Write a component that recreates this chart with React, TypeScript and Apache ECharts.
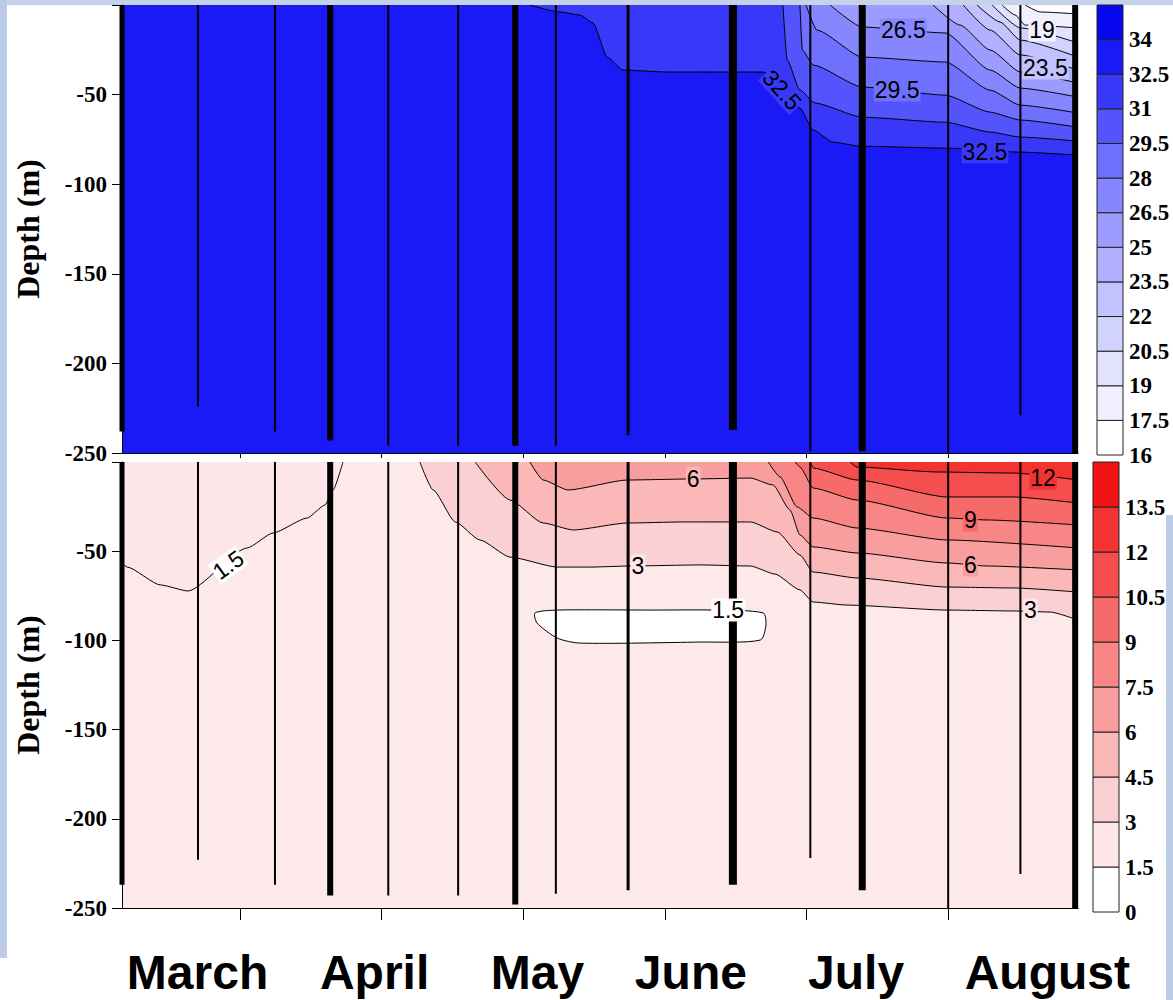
import React, { useEffect, useRef } from 'react';
import * as echarts from 'echarts';

// ---- stations (casts) ----
const stationDays = [0, 16.1, 32.4, 44.1, 56.4, 71.2, 83.3, 91.9, 107.2, 129.4, 145.8, 156.8, 175.0, 190.3, 201.9];
const salinityCastDepths = [-238, -224, -238, -243, -246, -246, -246, -246, -240, -237, -249, -249, -250, -229, -250];
const temperatureCastDepths = [-237, -223, -237, -243, -243, -243, -248, -242, -240, -237, -222, -240, -250, -231, -250];
const castLineWidths = [5, 2, 2, 6, 2, 2, 6, 2, 3, 8, 2, 7, 2, 2, 6];

// ---- x axis ----
const monthNames = ['March', 'April', 'May', 'June', 'July', 'August'];
const monthLabelDays = [16, 53.5, 88, 120.5, 155.5, 196];
const monthTickDays = [25, 55, 85, 115, 145, 175];
const dayMax = 202.5;

// ---- colour scales ----
const salinityBandEdges = [16, 17.5, 19, 20.5, 22, 23.5, 25, 26.5, 28, 29.5, 31, 32.5, 34, 35.5];
const salinityTickLabels = [16, 17.5, 19, 20.5, 22, 23.5, 25, 26.5, 28, 29.5, 31, 32.5, 34];
const salinityColors = ['#ffffff', '#f0f0ff', '#e2e2ff', '#d2d2ff', '#c2c2ff', '#b0b0ff', '#9c9cff', '#8686ff', '#7070ff', '#5454fc', '#3838f8', '#1a1af6', '#0808ee'];
const temperatureBandEdges = [0, 1.5, 3, 4.5, 6, 7.5, 9, 10.5, 12, 13.5, 15];
const temperatureTickLabels = [0, 1.5, 3, 4.5, 6, 7.5, 9, 10.5, 12, 13.5];
const temperatureColors = ['#ffffff', '#fde6ea', '#fbd0d2', '#fab8b8', '#f99e9e', '#f88686', '#f76a6a', '#f54e4e', '#f43232', '#f21414'];

// ---- salinity isolines [day, depth] ----
const sal32_5 = [[86.4, 0], [92.8, -3.9], [97.0, -5.6], [99.8, -10.1], [102.8, -29.1], [106.1, -36.3], [115.5, -37.4], [135.8, -37.4], [143.6, -57.5], [146.4, -69.8], [150.6, -76.5], [156.4, -78.8], [175.4, -79.9], [190.3, -82.1], [202.5, -83.8]];
const sal31 = [[140.0, 0], [140.9, -30.7], [143.6, -47.5], [146.8, -54.7], [156.8, -62.6], [174.4, -65.4], [183.9, -70.9], [190.3, -73.7], [202.5, -76.0]];
const sal29_5 = [[143.6, 0], [144.1, -25.1], [146.4, -33.5], [156.8, -45.8], [174.4, -50.3], [183.9, -59.8], [190.3, -64.2], [202.5, -68.2]];
const sal28 = [[144.9, 0], [147.2, -14.0], [156.8, -29.1], [174.4, -31.8], [183.9, -47.5], [190.3, -55.9], [202.5, -60.3]];
const sal26_5 = [[150.0, 0], [156.8, -12.3], [174.4, -15.6], [183.9, -36.3], [190.3, -46.4], [202.5, -51.4]];
const sal25 = [[171.8, 0], [177.5, -11.2], [183.9, -25.1], [190.3, -37.4], [202.5, -43.6]];
const sal23_5 = [[178.2, 0], [183.9, -14.0], [190.3, -27.9], [202.5, -36.3]];
const sal22 = [[181.1, 0], [186.0, -9.5], [190.3, -19.6], [202.5, -29.1]];
const sal20_5 = [[184.3, 0], [190.3, -12.8], [202.5, -21.2]];
const sal19 = [[186.4, 0], [189.2, -5.6], [191.3, -11.2], [202.5, -12.8]];
const sal17_5 = [[191.3, 0], [194.5, -3.9], [202.5, -5.0]];
const salinityLevels = [32.5, 31, 29.5, 28, 26.5, 25, 23.5, 22, 20.5, 19, 17.5];
const salinityIsolines = [sal32_5, sal31, sal29_5, sal28, sal26_5, sal25, sal23_5, sal22, sal20_5, sal19, sal17_5];

const salLabelText = ['26.5', '29.5', '32.5', '32.5', '19', '23.5'];
const salLabelDays = [165.5, 164.2, 139.8, 182.8, 194.9, 195.6];
const salLabelDepths = [-14.0, -47.5, -47.5, -82.1, -14.0, -35.2];
const salLabelAngles = [0, 0, -48, 0, 0, 0];
const salLabelBand = [7, 8, 10, 10, 1, 4];

// ---- temperature isolines [day, depth] ----
const tem1_5 = [[0, -56.6], [1.1, -58.9], [8.1, -68.9], [14.0, -72.3], [26.5, -48.2], [32.0, -39.8], [39.2, -31.4], [43.0, -24.1], [44.7, -15.7], [46.8, 0]];
const tem3 = [[63.1, 0], [65.9, -15.7], [70.6, -33.6], [75.8, -43.7], [82.2, -53.3], [92.2, -58.9], [99.2, -58.9], [107.6, -58.3], [122.5, -57.7], [133.1, -58.3], [138.3, -62.8], [143.6, -71.7], [146.4, -78.5], [153.6, -80.2], [174.8, -83.0], [188.8, -83.5], [196.6, -84.1], [202.5, -88.6]];
const tem4_5 = [[74.8, 0], [82.2, -21.3], [89.2, -34.2], [95.6, -38.1], [107.0, -34.2], [118.9, -33.6], [133.1, -33.6], [138.8, -39.2], [143.6, -52.1], [146.4, -61.7], [155.7, -65.0], [174.8, -70.1], [188.8, -70.6], [202.5, -72.9]];
const tem6 = [[86.4, 0], [89.2, -10.1], [94.5, -15.7], [107.0, -10.1], [121.0, -9.5], [133.1, -9.0], [137.9, -12.9], [141.5, -26.9], [143.6, -40.9], [146.4, -47.6], [155.7, -51.0], [174.8, -56.6], [183.3, -58.3], [202.5, -60.5]];
const tem7_5 = [[136.9, 0], [139.4, -8.4], [143.0, -25.2], [146.4, -31.4], [155.7, -37.0], [174.8, -43.7], [202.5, -48.2]];
const tem9 = [[142.6, 0], [143.6, -2.8], [146.4, -14.6], [155.7, -21.3], [174.8, -31.4], [183.3, -32.5], [202.5, -35.3]];
const tem10_5 = [[145.8, 0], [146.4, -3.4], [155.7, -10.1], [174.8, -19.6], [188.8, -19.6], [202.5, -23.0]];
const tem12 = [[154.2, 0], [155.7, -2.8], [172.7, -5.6], [188.8, -6.2], [202.5, -10.1]];
const temperatureLevels = [1.5, 3, 4.5, 6, 7.5, 9, 10.5, 12];
const temperatureIsolines = [tem1_5, tem3, tem4_5, tem6, tem7_5, tem9, tem10_5, tem12];
// closed 1.5 isoline (cold core)
const coldCoreDays = [87.5, 92.2, 112.5, 125.2, 135.8, 136.4, 135.2, 122.5, 97.0, 92.2, 87.9];
const coldCoreDepths = [-84.6, -83.0, -83.0, -83.0, -84.6, -91.4, -99.8, -100.9, -101.5, -98.7, -90.2];

const temLabelText = ['1.5', '3', '1.5', '6', '12', '9', '6', '3'];
const temLabelDays = [22.5, 109.3, 128.4, 121.0, 195.1, 179.7, 179.7, 192.4];
const temLabelDepths = [-57.7, -58.3, -83.0, -9.3, -9.0, -32.5, -57.7, -83.0];
const temLabelAngles = [36, 0, 0, 0, 0, 0, 0, 0];
const temLabelBand = [0, 1, 0, 3, 8, 6, 4, 1];

const SERIF = '"Liberation Serif", "Times New Roman", serif';
const SANS = '"Liberation Sans", Arial, sans-serif';

function isolineSeries(data: number[][], fill: string, idx: number) {
  return {
    type: 'line',
    xAxisIndex: idx,
    yAxisIndex: idx,
    data,
    symbol: 'none',
    smooth: 0.2,
    smoothMonotone: 'x',
    silent: true,
    z: 2,
    lineStyle: { color: '#000', width: 1 },
    areaStyle: { color: fill, opacity: 1, origin: 'end' },
  };
}

function castSeries(depths: number[], idx: number) {
  return {
    type: 'custom',
    xAxisIndex: idx,
    yAxisIndex: idx,
    clip: false,
    silent: true,
    z: 5,
    data: stationDays.map((d, i) => [d, depths[i]]),
    renderItem: (params: any, api: any) => {
      const p1 = api.coord([api.value(0), 0]);
      const p2 = api.coord([api.value(0), api.value(1)]);
      return {
        type: 'line',
        shape: { x1: p1[0], y1: p1[1], x2: p2[0], y2: p2[1] },
        style: { stroke: '#000', lineWidth: castLineWidths[params.dataIndex] },
      };
    },
  };
}

function labelSeries(texts: string[], days: number[], depths: number[], angles: number[], bands: number[], colors: string[], idx: number) {
  return {
    type: 'custom',
    xAxisIndex: idx,
    yAxisIndex: idx,
    clip: false,
    silent: true,
    z: 10,
    data: texts.map((t, i) => [days[i], depths[i]]),
    renderItem: (params: any, api: any) => {
      const i = params.dataIndex;
      const p = api.coord([api.value(0), api.value(1)]);
      return {
        type: 'text',
        x: p[0],
        y: p[1],
        rotation: (angles[i] * Math.PI) / 180,
        style: {
          text: texts[i],
          fill: '#000',
          font: `23px ${SANS}`,
          align: 'center',
          verticalAlign: 'middle',
          backgroundColor: colors[bands[i]],
          padding: [0, 1],
        },
      };
    },
  };
}

function colorbarSeries(edges: number[], colors: string[], idx: number) {
  return {
    type: 'custom',
    xAxisIndex: idx,
    yAxisIndex: idx,
    clip: false,
    silent: true,
    data: colors.map((c, i) => [edges[i], edges[i + 1]]),
    renderItem: (params: any, api: any) => {
      const a = api.coord([0, api.value(1)]);
      const b = api.coord([1, api.value(0)]);
      return {
        type: 'rect',
        shape: { x: a[0], y: a[1], width: b[0] - a[0], height: b[1] - a[1] },
        style: { fill: colors[params.dataIndex], stroke: '#222', lineWidth: 1 },
      };
    },
  };
}

function depthAxis(gridIndex: number) {
  return {
    type: 'value',
    gridIndex,
    min: -250,
    max: 0,
    interval: 50,
    name: 'Depth (m)',
    nameLocation: 'middle',
    nameGap: 78,
    nameTextStyle: { fontFamily: SERIF, fontWeight: 'bold', fontSize: 32, color: '#000' },
    axisLine: { show: true, lineStyle: { color: '#000', width: 1 } },
    axisTick: { show: true, inside: false, length: 10, lineStyle: { color: '#000', width: 1 } },
    axisLabel: {
      show: true,
      margin: 15,
      color: '#000',
      fontFamily: SERIF,
      fontWeight: 'bold',
      fontSize: 23,
      formatter: (v: number) => (v === 0 ? '' : String(v)),
    },
    splitLine: { show: false },
  };
}

function colorbarAxis(gridIndex: number, min: number, max: number, ticks: number[]) {
  return {
    type: 'value',
    gridIndex,
    position: 'right',
    min,
    max,
    axisLine: { show: false },
    axisTick: { show: false },
    splitLine: { show: false },
    axisLabel: {
      show: true,
      customValues: ticks,
      margin: 6,
      color: '#000',
      fontFamily: SERIF,
      fontWeight: 'bold',
      fontSize: 23,
      formatter: (v: number) => String(v),
    },
  };
}

function hiddenX(gridIndex: number) {
  return { type: 'value', gridIndex, min: 0, max: 1, show: false };
}

export default function App() {
  const ref = useRef<HTMLDivElement>(null);

  useEffect(() => {
    if (!ref.current) return;
    const chart = echarts.init(ref.current, null, { renderer: 'svg' });

    const series: any[] = [];
    salinityIsolines.forEach((line, i) => {
      const bandIndex = salinityBandEdges.indexOf(salinityLevels[i]) - 1;
      series.push(isolineSeries(line, salinityColors[bandIndex], 0));
    });
    temperatureIsolines.forEach((line, i) => {
      const bandIndex = temperatureBandEdges.indexOf(temperatureLevels[i]);
      series.push(isolineSeries(line, temperatureColors[bandIndex], 1));
    });
    series.push({
      type: 'custom',
      xAxisIndex: 1,
      yAxisIndex: 1,
      silent: true,
      z: 3,
      data: [[coldCoreDays[0], coldCoreDepths[0]]],
      renderItem: (params: any, api: any) => ({
        type: 'polygon',
        shape: {
          points: coldCoreDays.map((d, i) => api.coord([d, coldCoreDepths[i]])),
          smooth: 0.25,
        },
        style: { fill: temperatureColors[0], stroke: '#000', lineWidth: 1 },
      }),
    });
    series.push(castSeries(salinityCastDepths, 0));
    series.push(castSeries(temperatureCastDepths, 1));
    series.push(labelSeries(salLabelText, salLabelDays, salLabelDepths, salLabelAngles, salLabelBand, salinityColors, 0));
    series.push(labelSeries(temLabelText, temLabelDays, temLabelDepths, temLabelAngles, temLabelBand, temperatureColors, 1));
    series.push(colorbarSeries(salinityBandEdges, salinityColors, 2));
    series.push(colorbarSeries(temperatureBandEdges, temperatureColors, 3));

    const option: any = {
      animation: false,
      backgroundColor: '#ffffff',
      graphic: [
        { type: 'rect', silent: true, shape: { x: 0, y: 0, width: 1173, height: 5 }, style: { fill: '#c4d2ea' } },
        { type: 'rect', silent: true, shape: { x: 0, y: 0, width: 7, height: 958 }, style: { fill: '#bccbe8' } },
        { type: 'rect', silent: true, shape: { x: 1166, y: 515, width: 7, height: 485 }, style: { fill: '#bccbe8' } },
      ],
      grid: [
        { left: 122, top: 5, width: 956, height: 448, show: true, backgroundColor: salinityColors[11], borderWidth: 0 },
        { left: 122, top: 462, width: 956, height: 446, show: true, backgroundColor: '#fde8ea', borderWidth: 0 },
        { left: 1097, top: 5, width: 26, height: 450 },
        { left: 1093, top: 462, width: 26, height: 450 },
      ],
      xAxis: [
        {
          type: 'value',
          gridIndex: 0,
          min: 0,
          max: dayMax,
          axisLine: { show: true, onZero: false, lineStyle: { color: '#000', width: 1 } },
          axisTick: { show: true, customValues: monthTickDays, length: 5, lineStyle: { color: '#000' } },
          axisLabel: { show: false },
          splitLine: { show: false },
        },
        {
          type: 'value',
          gridIndex: 1,
          min: 0,
          max: dayMax,
          axisLine: { show: true, onZero: false, lineStyle: { color: '#000', width: 1 } },
          axisTick: { show: true, customValues: monthTickDays, length: 12, lineStyle: { color: '#000' } },
          axisLabel: {
            show: true,
            customValues: monthLabelDays,
            margin: 40,
            color: '#000',
            fontFamily: SANS,
            fontWeight: 'bold',
            fontSize: 48,
            formatter: (v: number) => monthNames[monthLabelDays.indexOf(v)] ?? '',
          },
          splitLine: { show: false },
        },
        hiddenX(2),
        hiddenX(3),
      ],
      yAxis: [
        depthAxis(0),
        depthAxis(1),
        colorbarAxis(2, 16, 35.5, salinityTickLabels),
        colorbarAxis(3, 0, 15, temperatureTickLabels),
      ],
      series,
    };

    chart.setOption(option);
    return () => chart.dispose();
  }, []);

  return (
    <div
      ref={ref}
      style={{ position: 'absolute', left: 0, top: 0, width: 1173, height: 1000, background: '#fff' }}
    />
  );
}
